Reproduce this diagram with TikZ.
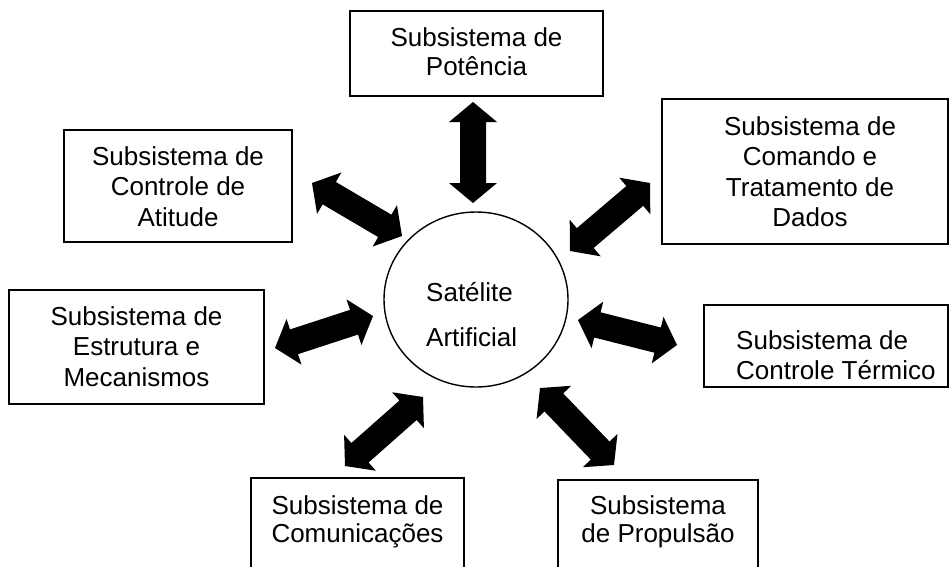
\documentclass[tikz,border=0pt]{standalone}
\usepackage{fontspec}
\setmainfont{Liberation Sans}
\usetikzlibrary{calc,shapes.geometric}
\tikzset{
  box/.style={draw, line width=1.4pt, inner sep=0pt, fill=white},
  lbl/.style={font=\fontsize{26pt}{30.5pt}\selectfont, align=center, inner sep=0pt},
  satellite/.style={draw, ellipse, line width=1.4pt, inner sep=0pt},
}
\newcommand\dblarrow[2]{%
  \fill (#1)
    -- ($(#1)!20pt!(#2)!24pt!90:(#2)$)
    -- ($(#1)!20pt!(#2)!13pt!90:(#2)$)
    -- ($(#2)!20pt!(#1)!13pt!-90:(#1)$)
    -- ($(#2)!20pt!(#1)!24pt!-90:(#1)$)
    -- (#2)
    -- ($(#2)!20pt!(#1)!24pt!90:(#1)$)
    -- ($(#2)!20pt!(#1)!13pt!90:(#1)$)
    -- ($(#1)!20pt!(#2)!13pt!-90:(#2)$)
    -- ($(#1)!20pt!(#2)!24pt!-90:(#2)$)
    -- cycle;}
\begin{document}
\begin{tikzpicture}[x=1pt,y=-1pt]
\useasboundingbox (0,0) rectangle (949,566);
\clip (0,0) rectangle (949,566);

% boxes
\node[box, minimum width=253pt, minimum height=85pt]  (pot)  at (476.5,53.5) {};
\node[box, minimum width=286pt, minimum height=145pt] (cmd)  at (805,171.5) {};
\node[box, minimum width=228pt, minimum height=112pt] (att)  at (178,186) {};
\node[box, minimum width=255pt, minimum height=114pt] (est)  at (136.5,347) {};
\node[box, minimum width=244pt, minimum height=82pt]  (ter)  at (826,346) {};
\node[box, minimum width=213pt, minimum height=102pt] (comm) at (357.5,529) {};
\node[box, minimum width=200pt, minimum height=100pt] (prop) at (658,530) {};

% texts
\node[lbl, font=\fontsize{26pt}{29pt}\selectfont] (potT) at (476.5,52) {Subsistema de\\Potência};
\node[lbl] (cmdT) at (810,171.5) {Subsistema de\\Comando e\\Tratamento de\\Dados};
\node[lbl] (attT) at (178,186.5) {Subsistema de\\Controle de\\Atitude};
\node[lbl] (estT) at (136.5,346.5) {Subsistema de\\Estrutura e\\Mecanismos};
\node[lbl, align=left, anchor=west] (terT) at (736,355) {Subsistema de\\Controle Térmico};
\node[lbl, font=\fontsize{26pt}{28pt}\selectfont] (commT) at (357.5,522) {Subsistema de\\Comunicações};
\node[lbl, font=\fontsize{26pt}{28pt}\selectfont] (propT) at (658,522) {Subsistema\\de Propulsão};

% central satellite
\node[satellite, minimum width=184pt, minimum height=175pt] (sat) at (476,299.5) {};
\node[lbl, align=left, anchor=west, font=\fontsize{26pt}{45pt}\selectfont] (satT) at (426,315) {Satélite\\Artificial};

% arrow end points
\coordinate (potA)  at (473,102);  \coordinate (potB)  at (473,203);
\coordinate (attA)  at (312,183);  \coordinate (attB)  at (402,236);
\coordinate (cmdA)  at (650,183);  \coordinate (cmdB)  at (570,251);
\coordinate (estA)  at (275,348);  \coordinate (estB)  at (373,316);
\coordinate (terA)  at (677,345);  \coordinate (terB)  at (578,320);
\coordinate (commA) at (345,466);  \coordinate (commB) at (423,397);
\coordinate (propA) at (614,465);  \coordinate (propB) at (540,388);

\dblarrow{potA}{potB}
\dblarrow{attA}{attB}
\dblarrow{cmdA}{cmdB}
\dblarrow{estA}{estB}
\dblarrow{terA}{terB}
\dblarrow{commA}{commB}
\dblarrow{propA}{propB}
\end{tikzpicture}
\end{document}
